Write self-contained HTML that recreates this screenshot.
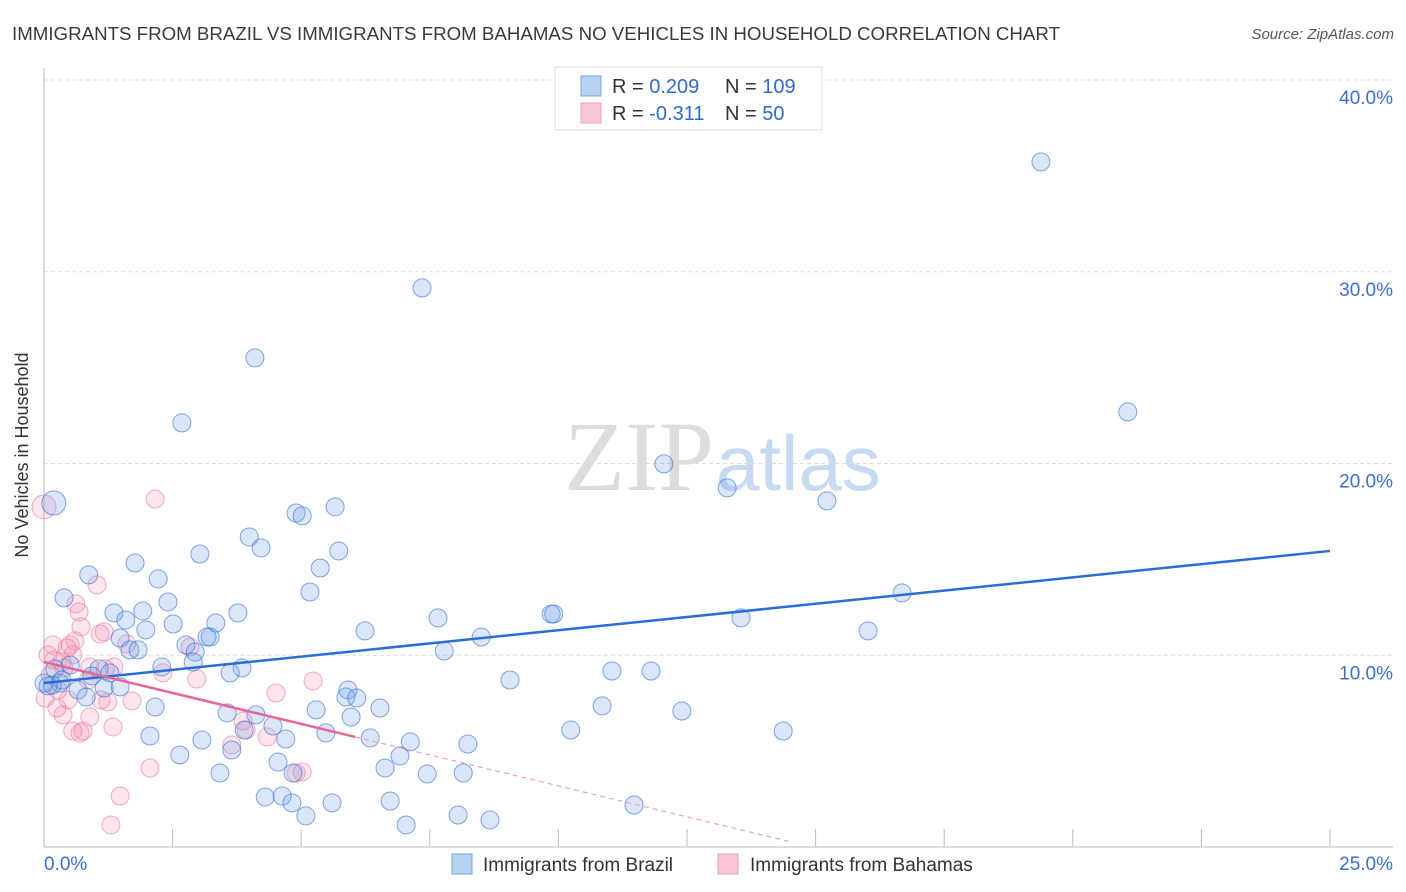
<!DOCTYPE html>
<html><head><meta charset="utf-8"><style>
body{margin:0;background:#fff;font-family:"Liberation Sans",sans-serif;}
#c{position:relative;width:1406px;height:892px;overflow:hidden;}
</style></head><body>
<div id="c">
<svg id="s" width="1406" height="892">
<text x="12" y="40" font-size="18" fill="#3a3a3a" textLength="1048" lengthAdjust="spacingAndGlyphs">IMMIGRANTS FROM BRAZIL VS IMMIGRANTS FROM BAHAMAS NO VEHICLES IN HOUSEHOLD CORRELATION CHART</text>
<text x="1394" y="39" font-size="15" font-style="italic" fill="#555" text-anchor="end">Source: ZipAtlas.com</text>
<text x="714" y="490" font-size="100" font-family="Liberation Serif,serif" fill="#ddd" text-anchor="end">ZIP</text>
<text x="716" y="490" font-size="78" fill="#c8daf2">atlas</text>
<g id="grid"></g>
<line x1="44" y1="68" x2="44" y2="847" stroke="#bbb"/>
<line x1="44" y1="847" x2="1393" y2="847" stroke="#bbb"/>
<g id="ticks"></g>
<text x="28" y="455" font-size="18" fill="#333" text-anchor="middle" transform="rotate(-90 28 455)">No Vehicles in Household</text>
<g id="pts"></g>
<g id="trend"></g>
<g>
<rect x="555" y="67" width="267" height="63" fill="#fff" stroke="#ddd"/>
<rect x="581" y="76" width="20" height="20" fill="#b8d2f4" stroke="#7aa3e0"/>
<rect x="581" y="103" width="20" height="20" fill="#f9c6d6" stroke="#f0a0ba"/>
<text x="612" y="93" font-size="20" fill="#333">R = <tspan fill="#2f6ad0">0.209</tspan></text>
<text x="725" y="93" font-size="20" fill="#333">N = <tspan fill="#2f6ad0">109</tspan></text>
<text x="612" y="120" font-size="20" fill="#333">R = <tspan fill="#2f6ad0">-0.311</tspan></text>
<text x="725" y="120" font-size="20" fill="#333">N = <tspan fill="#2f6ad0"> 50</tspan></text>
</g>
<g>
<rect x="452" y="854" width="20" height="20" fill="#b8d2f4" stroke="#7aa3e0"/>
<text x="483" y="871" font-size="19" fill="#333">Immigrants from Brazil</text>
<rect x="718" y="854" width="20" height="20" fill="#f9c6d6" stroke="#f0a0ba"/>
<text x="750" y="871" font-size="19" fill="#333">Immigrants from Bahamas</text>
</g>
</svg>
</div>
<script>
const yTicks=[10,20,30,40];
const yTickLabels=["10.0%","20.0%","30.0%","40.0%"];
const xTickLabels=["0.0%","25.0%"];
const brazilX=[19.38,7.35,4.10,21.07,2.68,12.05,13.28,15.22,5.66,4.90,5.02,3.99,4.22,3.03,5.73,1.77,5.37,0.87,2.22,5.17,16.68,0.39,2.41,9.86,9.91,3.77,1.36,1.92,1.59,3.34,2.51,1.98,13.55,7.66,16.02,6.24,1.48,3.23,3.17,8.50,1.67,1.83,2.76,2.94,7.78,2.29,2.90,3.85,3.62,11.04,11.80,1.07,0.93,1.28,0.51,0.21,0.31,0.16,0.66,1.17,1.48,0.35,0.82,9.06,5.91,5.87,6.08,6.53,5.29,2.16,10.85,12.40,3.56,4.12,5.97,4.45,3.89,5.48,2.06,6.34,4.70,3.07,10.24,14.37,7.12,8.24,3.65,2.64,6.92,4.55,6.63,3.42,4.84,7.45,8.15,4.30,4.63,4.82,5.60,6.73,11.47,5.09,8.05,8.67,7.04,0,0.08,0.19];
const brazilY=[35.73,29.16,25.51,22.69,22.12,19.98,18.73,18.05,17.74,17.42,17.27,16.17,15.60,15.28,15.44,14.81,14.55,14.19,13.98,13.30,13.25,12.99,12.78,12.15,12.15,12.21,12.21,12.31,11.84,11.68,11.63,11.32,11.95,11.95,11.27,11.27,10.90,10.95,10.95,10.95,10.28,10.28,10.54,10.17,10.22,9.39,9.65,9.34,9.08,9.18,9.18,9.29,8.92,9.08,9.49,9.29,8.55,8.45,8.19,8.29,8.35,8.71,7.82,8.71,8.19,7.82,7.77,7.25,7.15,7.30,7.36,7.09,6.99,6.89,6.78,6.31,6.10,5.95,5.79,5.69,5.63,5.58,6.10,6.05,5.48,5.37,5.06,4.80,4.75,4.43,4.12,3.86,3.86,3.81,3.86,2.61,2.66,2.30,2.30,2.40,2.19,1.62,1.67,1.41,1.15,8.55,8.40,17.94];
const bahamasX=[0,2.16,1.03,0.62,0.68,0.72,0.51,0.60,1.17,1.09,0.17,0.45,0.56,0.19,0.35,0.39,0.89,1.36,1.19,1.61,0.12,0.27,2.31,2.97,4.51,5.23,0.02,0.47,0.25,0.37,0.89,1.24,1.71,1.11,3.87,1.34,0.70,0.76,0.56,3.93,4.34,3.65,2.06,4.90,5.02,1.48,1.30,2.84,0.86,0.08];
const bahamasY=[17.74,18.15,13.67,12.68,12.26,11.48,10.54,10.75,11.22,11.11,10.54,10.38,10.02,9.75,9.65,9.34,9.39,9.39,9.29,10.59,8.97,8.19,9.08,8.76,8.03,8.66,7.77,7.67,7.25,6.89,6.78,7.56,7.62,7.67,6.57,6.26,5.95,6.05,6.05,6.10,5.74,5.32,4.12,3.86,3.91,2.66,1.15,10.43,8.71,10.02];
const brazilTrend=[0,8.55,25,15.44];
const bahamasTrend=[0,9.65,6.05,5.74,14.5,0.28];
const NS="http://www.w3.org/2000/svg";
const X=v=>44+v*(1286/25), Y=v=>847-v*(767/40);
function mk(t,a,p){const e=document.createElementNS(NS,t);for(const k in a)e.setAttribute(k,a[k]);p.appendChild(e);return e;}
const grid=document.getElementById('grid'),ticks=document.getElementById('ticks'),pts=document.getElementById('pts'),tr=document.getElementById('trend');
yTicks.forEach((t,i)=>{
 const l=mk('line',{x1:44,x2:1393,y1:Y(t),y2:Y(t),stroke:'#ddd','stroke-dasharray':'4,3'},grid);
 
 
 const tx=mk('text',{x:1393,y:Y(t)+24,'font-size':19,fill:'#3a6fd0','text-anchor':'end'},grid);
 tx.textContent=yTickLabels[i];
 
 
});
for(let i=0;i<=10;i++){
 const l=mk('line',{x1:X(i*2.5),x2:X(i*2.5),y1:829,y2:847,stroke:'#bbb'},ticks);
 
 
}
[[0,'start',44],[1,'end',1393]].forEach(([i,a,x])=>{
 const t=mk('text',{x:x,y:870,'font-size':19,fill:'#3a6fd0','text-anchor':a},ticks);
 t.textContent=xTickLabels[i];
 
 
});
function dots(xs,ys,fill,stroke,name,bigIdx){
 xs.forEach((x,i)=>{
  const c=mk('circle',{cx:X(x),cy:Y(ys[i]),r:i===bigIdx?12:9,fill:fill,stroke:stroke,'stroke-width':1},pts);
  
  
 });
}
dots(bahamasX,bahamasY,'rgba(245,150,180,0.25)','rgba(235,120,160,0.6)','bahamas-point',0);
dots(brazilX,brazilY,'rgba(110,160,230,0.25)','rgba(60,120,215,0.65)','brazil-point',brazilX.length-1);
const bl=mk('line',{x1:X(brazilTrend[0]),y1:Y(brazilTrend[1]),x2:X(brazilTrend[2]),y2:Y(brazilTrend[3]),stroke:'#2a6dd6','stroke-width':2.5},tr);


const pl=mk('line',{x1:X(bahamasTrend[0]),y1:Y(bahamasTrend[1]),x2:X(bahamasTrend[2]),y2:Y(bahamasTrend[3]),stroke:'#e8679a','stroke-width':2.5},tr);


const pd=mk('line',{x1:X(bahamasTrend[2]),y1:Y(bahamasTrend[3]),x2:X(bahamasTrend[4]),y2:Y(bahamasTrend[5]),stroke:'#f0a0bd','stroke-width':1.2,'stroke-dasharray':'5,4'},tr);


</script>
</body></html>
